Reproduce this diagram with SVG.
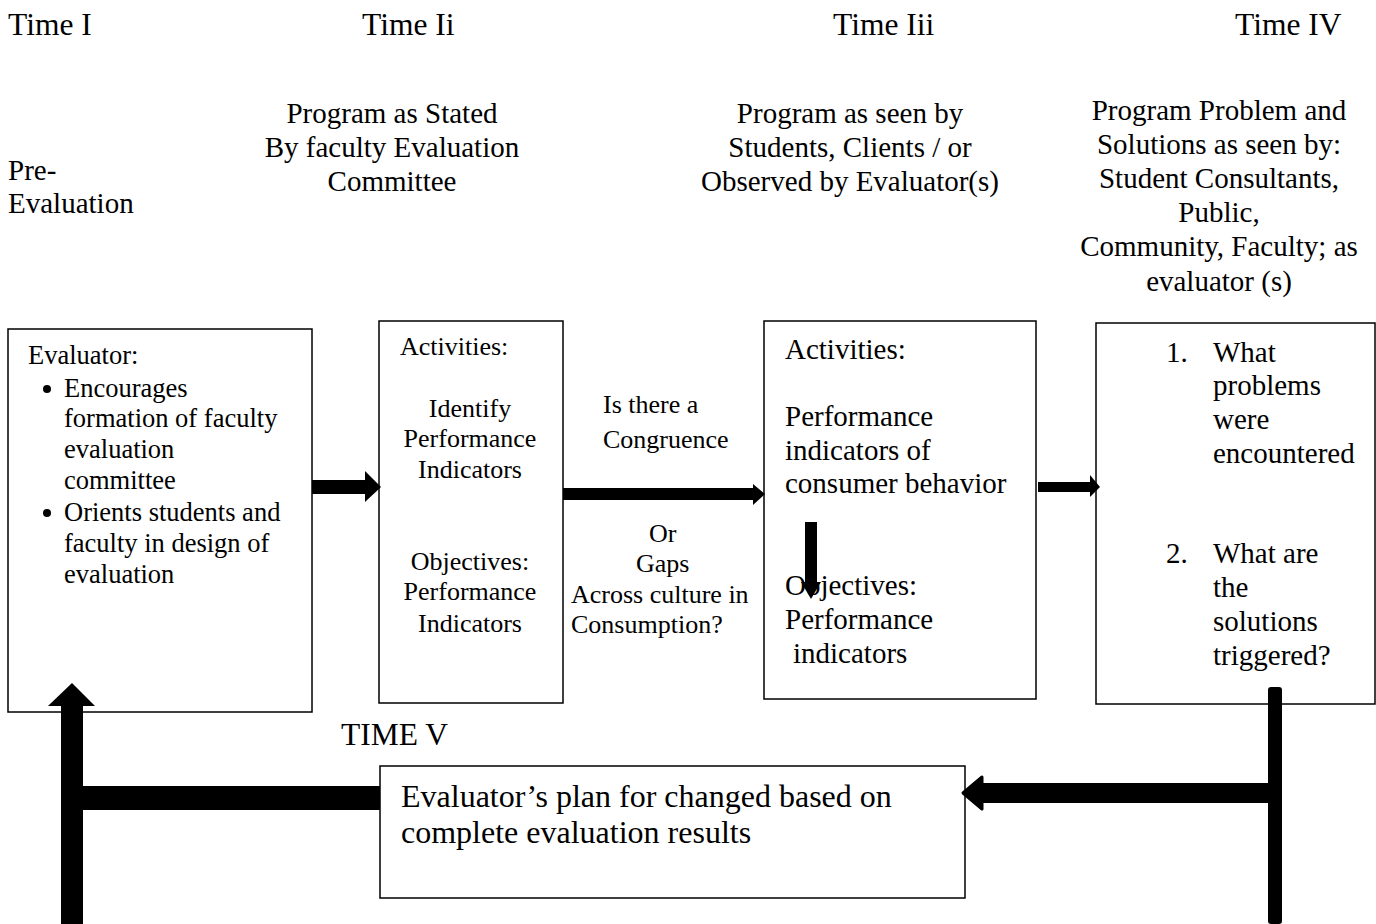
<svg xmlns="http://www.w3.org/2000/svg" width="1376" height="924" viewBox="0 0 1376 924">
<style>
text{font-family:"Liberation Serif","Times New Roman",serif;fill:#000}
.t{font-size:31.5px}
.p{font-size:32px}
.h{font-size:29px}
.s{font-size:26px}
.e{font-size:26.5px}
.b{fill:#fff;stroke:#000;stroke-width:1.5}
.c{text-anchor:middle}
</style>
<rect width="1376" height="924" fill="#fff"/>
<g id="labels">
<text class="t" x="8" y="35">Time I</text>
<text class="t" x="362" y="35">Time Ii</text>
<text class="t" x="833" y="35">Time Iii</text>
<text class="t" x="1235" y="35">Time IV</text>
<text class="h" x="8" y="180">Pre-</text>
<text class="h" x="8" y="213">Evaluation</text>
<text class="h c" x="392" y="123">Program as Stated</text>
<text class="h c" x="392" y="157">By faculty Evaluation</text>
<text class="h c" x="392" y="191">Committee</text>
<text class="h c" x="850" y="123">Program as seen by</text>
<text class="h c" x="850" y="157">Students, Clients / or</text>
<text class="h c" x="850" y="191">Observed by Evaluator(s)</text>
<text class="h c" x="1219" y="120">Program Problem and</text>
<text class="h c" x="1219" y="154">Solutions as seen by:</text>
<text class="h c" x="1219" y="188">Student Consultants,</text>
<text class="h c" x="1219" y="222">Public,</text>
<text class="h c" x="1219" y="256">Community, Faculty; as</text>
<text class="h c" x="1219" y="291">evaluator (s)</text>
<text class="t" x="341" y="745">TIME V</text>
</g>
<g id="node-evaluator">
<rect class="b" x="8" y="329" width="304" height="383"/>
<text class="e" x="28" y="364">Evaluator:</text>
<circle cx="47" cy="389" r="4"/>
<text class="e" x="64" y="397">Encourages</text>
<text class="e" x="64" y="427">formation of faculty</text>
<text class="e" x="64" y="458">evaluation</text>
<text class="e" x="64" y="489">committee</text>
<circle cx="47" cy="513" r="4"/>
<text class="e" x="64" y="521">Orients students and</text>
<text class="e" x="64" y="552">faculty in design of</text>
<text class="e" x="64" y="583">evaluation</text>
</g>
<g id="node-stated">
<rect class="b" x="379" y="321" width="184" height="382"/>
<text class="s" x="400" y="355">Activities:</text>
<text class="s c" x="470" y="417">Identify</text>
<text class="s c" x="470" y="447">Performance</text>
<text class="s c" x="470" y="478">Indicators</text>
<text class="s c" x="470" y="570">Objectives:</text>
<text class="s c" x="470" y="600">Performance</text>
<text class="s c" x="470" y="632">Indicators</text>
</g>
<g id="node-congruence">
<text class="s" x="603" y="413">Is there a</text>
<text class="s" x="603" y="448">Congruence</text>
<text class="s" x="649" y="542">Or</text>
<text class="s" x="636" y="572">Gaps</text>
<text class="s" x="571" y="603">Across culture in</text>
<text class="s" x="571" y="633">Consumption?</text>
</g>
<g id="node-seen">
<rect class="b" x="764" y="321" width="272" height="378"/>
<text class="h" x="785" y="359">Activities:</text>
<text class="h" x="785" y="426">Performance</text>
<text class="h" x="785" y="460">indicators of</text>
<text class="h" x="785" y="493">consumer behavior</text>
<text class="h" x="785" y="595">Objectives:</text>
<text class="h" x="785" y="629">Performance</text>
<text class="h" x="793" y="663">indicators</text>
</g>
<g id="node-problems">
<rect class="b" x="1096" y="323" width="279" height="381"/>
<text class="h" x="1166" y="362">1.</text>
<text class="h" x="1213" y="362">What</text>
<text class="h" x="1213" y="395">problems</text>
<text class="h" x="1213" y="429">were</text>
<text class="h" x="1213" y="463">encountered</text>
<text class="h" x="1166" y="563">2.</text>
<text class="h" x="1213" y="563">What are</text>
<text class="h" x="1213" y="597">the</text>
<text class="h" x="1213" y="631">solutions</text>
<text class="h" x="1213" y="665">triggered?</text>
</g>
<g id="node-plan">
<rect class="b" x="380" y="766" width="585" height="132"/>
<text class="p" x="401" y="807">Evaluator’s plan for changed based on</text>
<text class="p" x="401" y="843">complete evaluation results</text>
</g>
<g id="connectors" fill="#000">
<rect x="312" y="480" width="54" height="14"/>
<polygon points="365,471 381,487 365,502"/>
<rect x="563" y="488" width="191" height="12"/>
<polygon points="753,484 765,494 753,505"/>
<rect x="1038" y="482" width="53" height="10"/>
<polygon points="1090,475 1100,487 1090,497"/>
<rect x="805" y="522" width="12" height="61"/>
<polygon points="801,582 821,582 811,599"/>
<rect x="61" y="705" width="22" height="219"/>
<polygon points="48,706 72,683 95,706"/>
<rect x="82" y="786" width="298" height="24"/>
<rect x="1268" y="687" width="14" height="237" rx="3"/>
<rect x="981" y="783" width="301" height="20"/>
<polygon points="982,777 963,793 982,809" stroke="#000" stroke-width="3" stroke-linejoin="round"/>
</g>
</svg>
